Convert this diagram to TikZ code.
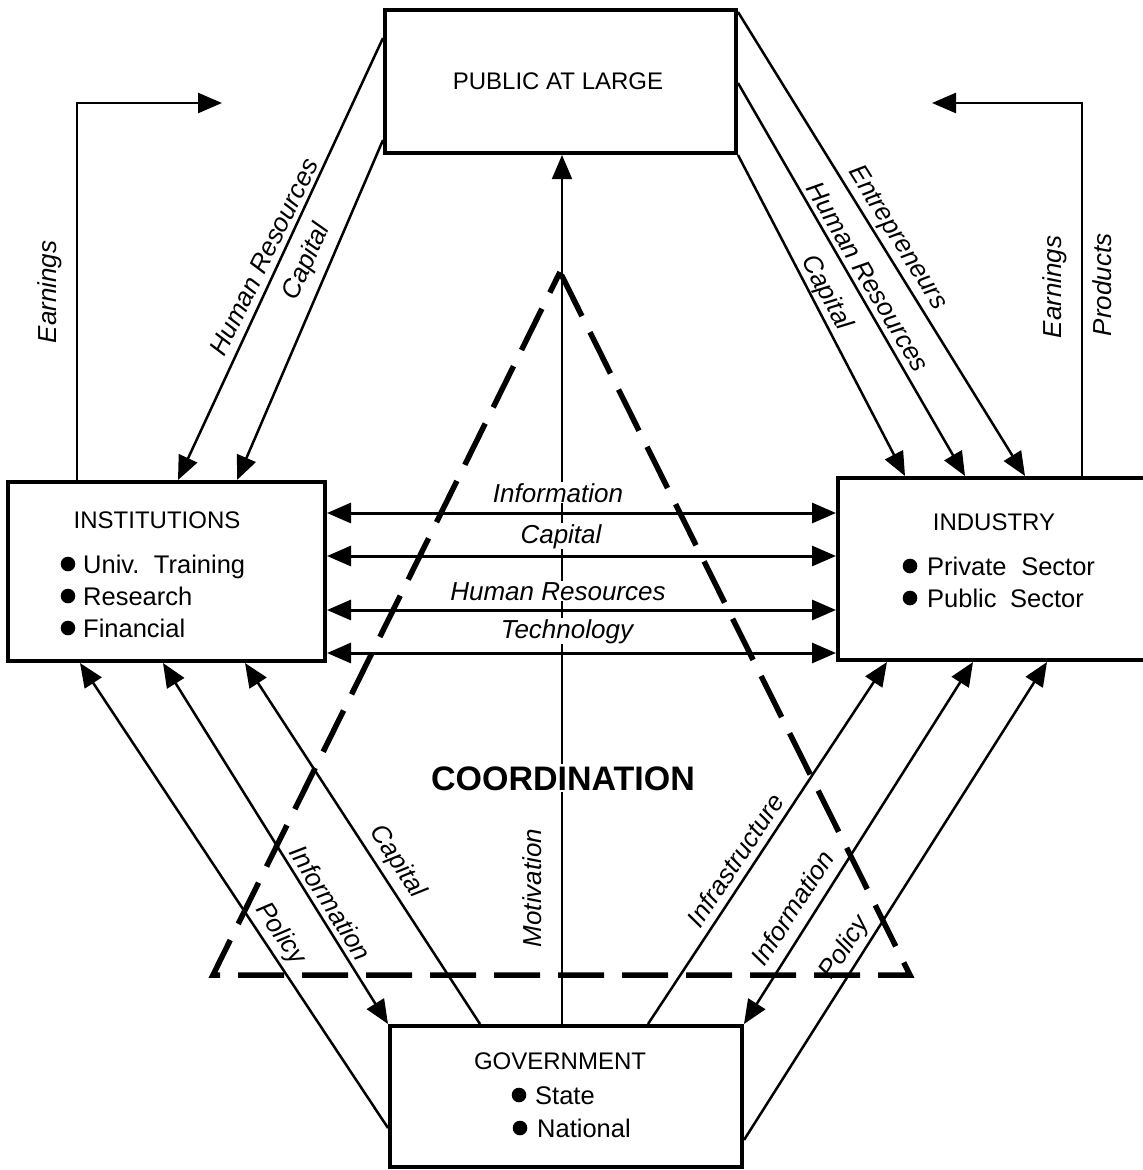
\documentclass[tikz,border=0pt]{standalone}
\usepackage{fontspec}
\setmainfont{Liberation Sans}
\usetikzlibrary{arrows.meta,calc}

\begin{document}
\begin{tikzpicture}[x=1pt,y=-1pt,
  box/.style={draw, line width=4pt, inner sep=0pt, fill=white},
  title/.style={font=\fontsize{24}{24}\selectfont, anchor=base, inner sep=0pt},
  item/.style={font=\fontsize{25.5}{25.5}\selectfont, anchor=base west, inner sep=0pt},
  lbl/.style={font=\fontsize{26}{26}\selectfont\itshape, inner sep=1pt},
  hlbl/.style={lbl, anchor=base, fill=white},
  flow/.style={line width=2.5pt, -{Triangle[length=24pt,width=20pt]}},
  both/.style={line width=2.5pt, {Triangle[length=24pt,width=20pt]}-{Triangle[length=24pt,width=20pt]}},
  link/.style={line width=3pt, {Triangle[length=24pt,width=20pt]}-{Triangle[length=24pt,width=20pt]}},
  coord/.style={line width=5.5pt, dash pattern=on 46pt off 18pt, dash phase=23pt, line join=miter},
  dot/.style={fill=black}
]
% page
\fill[white] (0,0) rectangle (1143,1170);
\useasboundingbox (0,0) rectangle (1143,1170);

% the four sectors
\node[box, minimum width=351pt, minimum height=143pt] (pub)  at (560.5,81.5) {};
\node[box, minimum width=317pt, minimum height=179pt] (inst) at (166.5,571.5) {};
\node[box, minimum width=310pt, minimum height=182pt] (ind)  at (993,569) {};
\node[box, minimum width=352pt, minimum height=141pt] (gov)  at (566,1096.5) {};

\node[title] (pubT)  at (558,89)   {PUBLIC AT LARGE};
\node[title] (instT) at (157,528)  {INSTITUTIONS};
\node[title] (indT)  at (994,530)  {INDUSTRY};
\node[title] (govT)  at (560,1069) {GOVERNMENT};

% institution items
\fill[dot] (68,564) circle (7.3pt);
\fill[dot] (68,596) circle (7.3pt);
\fill[dot] (68,628) circle (7.3pt);
\node[item] (instA) at (83,573) {Univ.\hspace{0.2em} Training};
\node[item] (instB) at (83,605) {Research};
\node[item] (instC) at (83,637) {Financial};

% industry items
\fill[dot] (910,566) circle (7.3pt);
\fill[dot] (910,598) circle (7.3pt);
\node[item] (indA) at (927,575) {Private\hspace{0.3em} Sector};
\node[item] (indB) at (927,607) {Public\hspace{0.25em} Sector};

% government items
\fill[dot] (519,1095) circle (7.3pt);
\fill[dot] (520,1128) circle (7.3pt);
\node[item] (govA) at (535,1104) {State};
\node[item] (govB) at (537,1137) {National};

% coordination triangle
\coordinate (apex) at (560,272);
\coordinate (bl) at (213,975);
\coordinate (br) at (910,975);
\draw[coord] (apex) -- (bl) -- (br) -- cycle;

% motivation
\draw[flow, line width=1.8pt] (gov.north -| 562,0) -- (pub.south -| 562,0);
\node[lbl, rotate=90] (motL) at (532,888) {Motivation};
\node[font=\fontsize{34}{34}\selectfont\bfseries, anchor=base, fill=white, inner sep=2pt] (coordT) at (563,790) {COORDINATION};

% earnings loops
\coordinate (earnL) at (222,103);
\coordinate (earnR) at (932,103);
\draw[flow] (inst.north -| 77,0) |- (earnL);
\draw[flow] (ind.north -| 1082,0) |- (earnR);
\node[lbl, rotate=90] (earnLT) at (50,292) {Earnings};
\node[lbl, rotate=90] (earnRT) at (1055,287) {Earnings};
\node[lbl, rotate=90] (prodT) at (1102,285) {Products};

% public -> institutions
\draw[flow] (pub.west |- 0,38) -- (inst.north -| 178,0);
\draw[flow] (pub.west |- 0,140) -- (inst.north -| 237,0);
\node[lbl, rotate=64] (hrL) at (264,257) {Human Resources};
\node[lbl, rotate=66] (capL) at (307,262) {Capital};

% public -> industry
\draw[flow] (pub.east |- 0,12) -- (ind.north -| 1025,0);
\draw[flow] (pub.east |- 0,83) -- (ind.north -| 965,0);
\draw[flow] (pub.south east) -- (ind.north -| 905,0);
\node[lbl, rotate=-58] (entR) at (897,238) {Entrepreneurs};
\node[lbl, rotate=-59.5] (hrR) at (868,277) {Human Resources};
\node[lbl, rotate=-62] (capR) at (826,293) {Capital};

% institutions <-> industry
\draw[link] (inst.east |- 0,513) -- (ind.west |- 0,513);
\draw[link] (inst.east |- 0,556) -- (ind.west |- 0,556);
\draw[link] (inst.east |- 0,610) -- (ind.west |- 0,610);
\draw[link] (inst.east |- 0,653) -- (ind.west |- 0,653);
\node[hlbl] (infoH) at (558,502) {Information};
\node[hlbl] (capH)  at (561,543) {Capital};
\node[hlbl] (hrH)   at (558,600) {Human Resources};
\node[hlbl] (techH) at (567,638) {Technology};

% government -> institutions
\draw[flow] (gov.west |- 0,1128) -- (inst.south -| 80,0);
\draw[both] (gov.north west) -- (inst.south -| 163,0);
\draw[flow] (gov.north -| 480,0) -- (inst.south -| 245,0);
\node[lbl, rotate=-56] (polL) at (280,934) {Policy};
\node[lbl, rotate=-58] (infoL) at (331,903) {Information};
\node[lbl, rotate=-57] (capB) at (397,862) {Capital};

% government -> industry
\draw[flow] (gov.north -| 648,0) -- (ind.south -| 887,0);
\draw[both] (gov.north east) -- (ind.south -| 973,0);
\draw[flow] (gov.east |- 0,1140) -- (ind.south -| 1047,0);
\node[lbl, rotate=56.5] (infraR) at (735,860) {Infrastructure};
\node[lbl, rotate=57] (infoR) at (792,908) {Information};
\node[lbl, rotate=57] (polR) at (845,948) {Policy};
\end{tikzpicture}
\end{document}
